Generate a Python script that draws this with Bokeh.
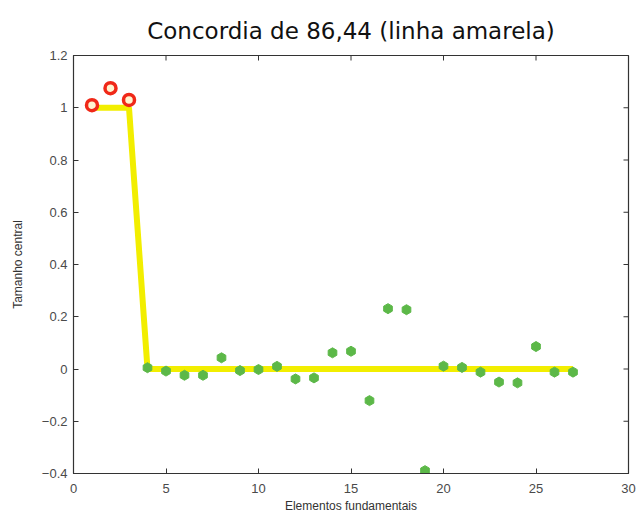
from bokeh.plotting import figure
from bokeh.models import FixedTicker, Range1d
from bokeh.embed import file_html
from bokeh.resources import INLINE

# Fundamental elements and their central sizes
red_x = [1, 2, 3]
red_y = [1.01, 1.075, 1.03]

green_x = list(range(4, 28))
green_y = [0.005, -0.008, -0.024, -0.024, 0.043, -0.006, -0.002, 0.010,
           -0.038, -0.034, 0.062, 0.068, -0.121, 0.231, 0.227, -0.389,
           0.011, 0.006, -0.012, -0.050, -0.053, 0.086, -0.012, -0.012]

# Concordance step line
line_x = [1, 3, 4, 27]
line_y = [1.0, 1.0, 0.0, 0.0]

x_ticks = [0, 5, 10, 15, 20, 25, 30]
y_ticks = [-0.4, -0.2, 0, 0.2, 0.4, 0.6, 0.8, 1.0, 1.2]

X0, X1 = 0, 30
Y0, Y1 = -0.4, 1.2

FONT = "Liberation Sans"
TITLE_FONT = "DejaVu Sans"
AXIS_COLOR = "#333333"

W, H = 639, 516
BL, BR, BT, BB = 73, 11, 55, 43

p = figure(width=W, height=H, output_backend="svg", toolbar_location=None,
           x_range=Range1d(X0, X1), y_range=Range1d(Y0, Y1),
           min_border_left=BL, min_border_right=BR,
           min_border_top=BT, min_border_bottom=BB)

p.title.text = "Concordia de 86,44 (linha amarela)"
p.title.align = "center"
p.title.text_font = TITLE_FONT
p.title.text_font_size = "23px"
p.title.text_font_style = "normal"
p.title.text_color = "#111111"
p.title.offset = 0
p.title.standoff = 24

p.grid.visible = False
p.outline_line_color = AXIS_COLOR
p.outline_line_width = 1.2
p.background_fill_color = "white"
p.border_fill_color = "white"

for ax in (p.xaxis[0], p.yaxis[0]):
    ax.major_tick_in = 5
    ax.major_tick_out = 0
    ax.minor_tick_line_color = None
    ax.axis_line_color = AXIS_COLOR
    ax.major_tick_line_color = AXIS_COLOR
    ax.major_label_text_font = FONT
    ax.major_label_text_font_size = "13px"
    ax.major_label_text_color = "#4a4a4a"
    ax.axis_label_text_font = FONT
    ax.axis_label_text_font_size = "12px"
    ax.axis_label_text_font_style = "normal"
    ax.axis_label_text_color = "#333333"

p.xaxis[0].ticker = FixedTicker(ticks=x_ticks)
p.yaxis[0].ticker = FixedTicker(ticks=y_ticks)
p.xaxis[0].axis_label = "Elementos fundamentais"
p.yaxis[0].axis_label = "Tamanho central"
p.xaxis[0].major_label_standoff = 10
p.xaxis[0].axis_label_standoff = 3
p.yaxis[0].major_label_standoff = 6
p.yaxis[0].axis_label_standoff = 14

# Inward ticks mirrored on the top and right edges of the box
tick_px = 5
dx = (X1 - X0) / (W - BL - BR) * tick_px
dy = (Y1 - Y0) / (H - BT - BB) * tick_px
p.segment(x0=x_ticks, y0=[Y1] * len(x_ticks), x1=x_ticks, y1=[Y1 - dy] * len(x_ticks),
          line_color=AXIS_COLOR, line_width=1)
p.segment(x0=[X1] * len(y_ticks), y0=y_ticks, x1=[X1 - dx] * len(y_ticks), y1=y_ticks,
          line_color=AXIS_COLOR, line_width=1)

p.line(line_x, line_y, line_color="#f2ee00", line_width=6)

p.scatter(green_x, green_y, marker="hex", size=10, fill_color="#5cb848",
          line_color="#5cb848", angle=0.52)

p.scatter(red_x, red_y, marker="circle", size=11, fill_color="#fff4d0",
          line_color="#f02818", line_width=3.5)

open("out.html", "w").write(file_html(p, INLINE))
